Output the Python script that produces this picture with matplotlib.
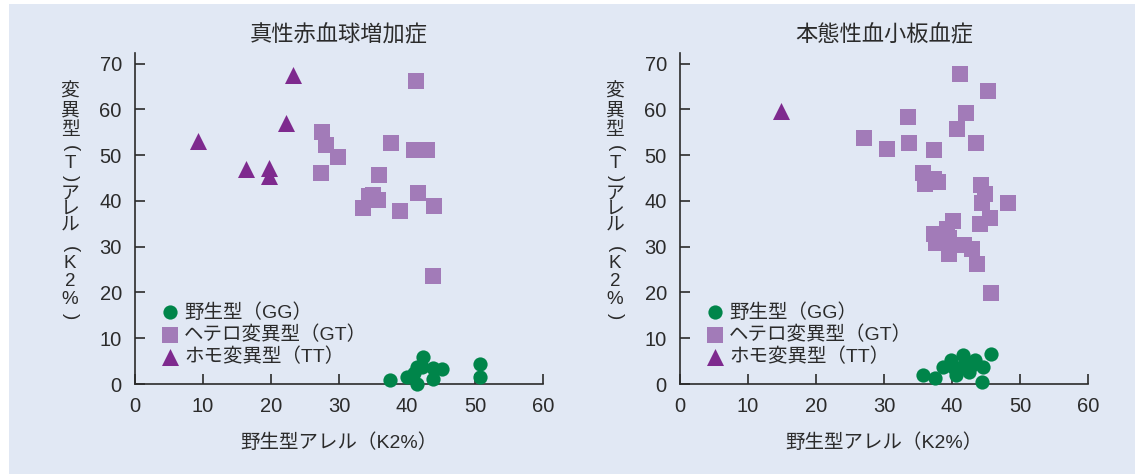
import matplotlib
matplotlib.use("Agg")
import matplotlib.pyplot as plt
from matplotlib.patches import Rectangle

plt.rcParams["font.family"] = ["Liberation Sans", "Noto Sans CJK JP", "DejaVu Sans"]

# 真性赤血球増加症 (PV)
pv_gg_x = [37.5, 40.0, 41.1, 41.5, 41.5, 42.2, 42.3, 43.8, 43.8, 45.2, 50.7, 50.7]
pv_gg_y = [0.9, 1.5, 2.3, 0.1, 3.8, 3.8, 6.0, 1.2, 3.4, 3.2, 4.4, 1.5]
pv_gt_x = [41.3, 27.5, 28.1, 29.9, 27.4, 37.6, 41.0, 43.0, 35.9, 34.4, 35.0,
           35.8, 33.5, 39.0, 41.6, 44.0, 43.8]
pv_gt_y = [66.2, 55.0, 52.3, 49.5, 46.1, 52.7, 51.1, 51.1, 45.6, 41.1, 41.3,
           40.3, 38.4, 37.7, 41.7, 38.9, 23.6]
pv_tt_x = [9.3, 16.3, 19.7, 19.7, 22.2, 23.3]
pv_tt_y = [53.0, 47.0, 47.2, 45.5, 57.0, 67.6]

# 本態性血小板血症 (ET)
et_gg_x = [35.8, 37.5, 38.7, 39.9, 40.6, 41.6, 41.4, 42.5, 43.4, 44.6, 44.4,
           45.8, 41.9, 40.3, 43.0]
et_gg_y = [2.0, 1.4, 3.8, 5.3, 2.0, 6.4, 3.8, 2.7, 5.3, 3.8, 0.5,
           6.6, 4.9, 3.4, 4.2]
et_gt_x = [41.2, 45.3, 42.0, 33.6, 40.7, 27.0, 33.7, 43.6, 30.5, 37.3, 35.8,
           36.0, 37.4, 38.0, 44.2, 44.9, 44.4, 48.2, 40.1, 45.6, 44.1, 37.4,
           39.3, 39.5, 37.7, 41.7, 43.0, 39.5, 43.7, 45.8]
et_gt_y = [67.8, 64.0, 59.2, 58.3, 55.7, 53.7, 52.7, 52.6, 51.4, 51.1, 46.2,
           43.7, 44.8, 44.2, 43.5, 41.6, 39.6, 39.6, 35.6, 36.2, 35.0, 32.8,
           33.8, 32.0, 30.7, 30.3, 29.4, 28.3, 26.3, 19.9]
et_tt_x = [14.9]
et_tt_y = [59.6]

titles = ["真性赤血球増加症", "本態性血小板血症"]
labels = ["野生型（GG）", "ヘテロ変異型（GT）", "ホモ変異型（TT）"]
xticks = [0, 10, 20, 30, 40, 50, 60]
yticks = [0, 10, 20, 30, 40, 50, 60, 70]

green = "#00854a"
lilac = "#a27bb8"
purple = "#7e2a8e"
bg = "#e1e8f4"
ink = "#2b2b2b"

W, H = 1135, 474
fig = plt.figure(figsize=(W / 100, H / 100), dpi=100, facecolor="white")
fig.patches.append(Rectangle((9 / W, 0), 1 - 9 / W, 1 - 4 / H,
                             transform=fig.transFigure, facecolor=bg,
                             edgecolor="none", zorder=-10))

# vertical y label, one glyph per row; parentheses are turned sideways
ylabel_chars = ["変", "異", "型", "(", "T", ")", "ア", "レ", "ル",
                "(", "K", "2", "%", ")"]
ylabel_pos = [92, 111, 130, 148, 164, 178, 195, 210, 225, 249, 263, 282, 300, 316]

panels = [
    (135, (pv_gg_x, pv_gg_y), (pv_gt_x, pv_gt_y), (pv_tt_x, pv_tt_y)),
    (680, (et_gg_x, et_gg_y), (et_gt_x, et_gt_y), (et_tt_x, et_tt_y)),
]

for i, (left_px, gg, gt, tt) in enumerate(panels):
    ax = fig.add_axes([left_px / W, 90 / H, 408 / W, 331.4 / H])
    ax.set_facecolor("none")
    ax.scatter(gg[0], gg[1], s=105, marker="o", color=green, label=labels[0],
               clip_on=False, zorder=3, linewidths=0)
    ax.scatter(gt[0], gt[1], s=120, marker="s", color=lilac, label=labels[1],
               clip_on=False, zorder=2, linewidths=0)
    ax.scatter(tt[0], tt[1], s=150, marker="^", color=purple, label=labels[2],
               clip_on=False, zorder=3, linewidths=0)

    ax.set_xlim(0, 60)
    ax.set_ylim(0, 72.4)
    ax.set_xticks(xticks)
    ax.set_yticks(yticks)
    for side in ["top", "right"]:
        ax.spines[side].set_visible(False)
    for side in ["left", "bottom"]:
        ax.spines[side].set_color(ink)
        ax.spines[side].set_linewidth(1.2)
    ax.tick_params(direction="in", length=7, width=1.2, color=ink,
                   labelsize=14.5, labelcolor=ink, pad=9.5)
    ax.tick_params(axis="x", pad=9)

    ax.set_title(titles[i], fontsize=16, color=ink, pad=8)
    ax.set_xlabel("野生型アレル（K2%）", fontsize=14, color=ink, labelpad=13)

    ax.legend(loc="lower left", bbox_to_anchor=(0.037, 0.03), frameon=False,
              fontsize=14, handletextpad=0.15, labelspacing=0.2,
              borderaxespad=0, handlelength=1.2, scatterpoints=1,
              labelcolor=ink)

    lx = (left_px - 65) / W
    for ch, yp in zip(ylabel_chars, ylabel_pos):
        rot = -90 if ch in "()" else 0
        fig.text(lx, 1 - yp / H, ch, ha="center", va="center", rotation=rot,
                 fontsize=13.5, color=ink)

fig.savefig("out.png", dpi=100, facecolor="white")
